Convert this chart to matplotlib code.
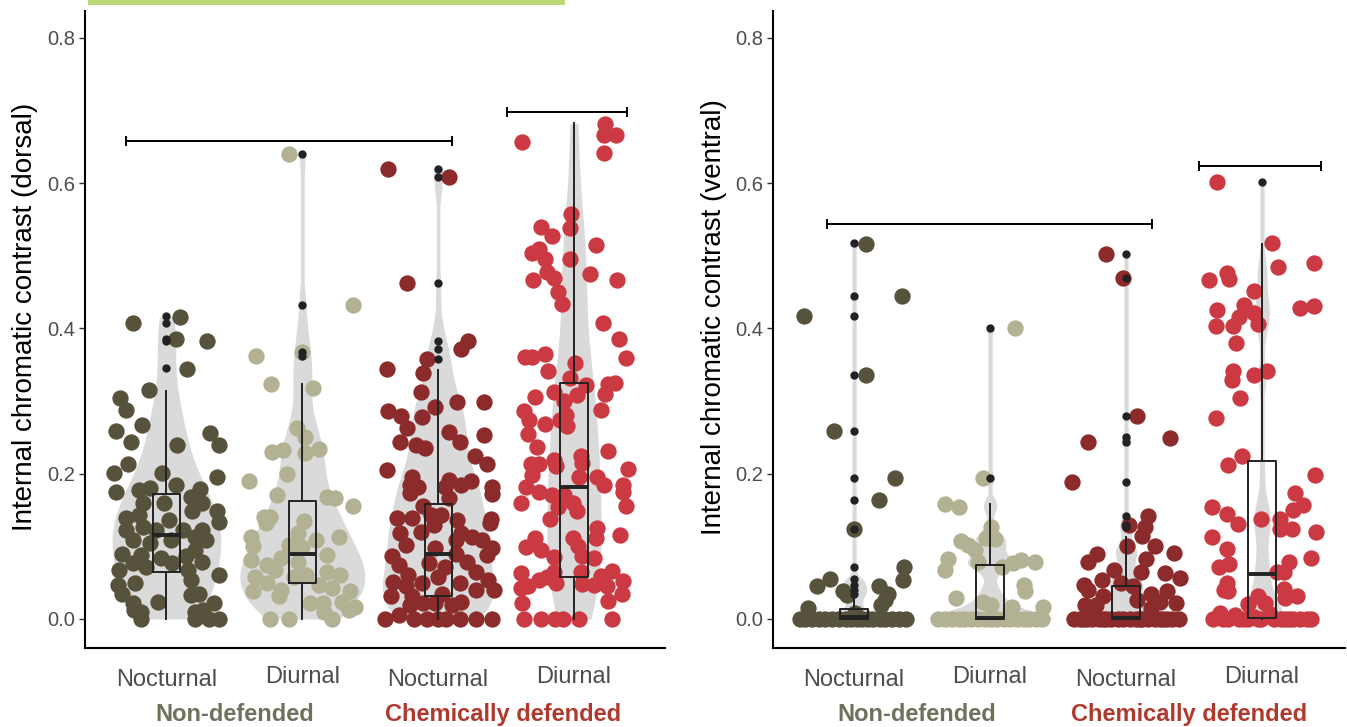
import numpy as np
import matplotlib.pyplot as plt
from matplotlib.patches import Rectangle

plt.rcParams['font.family'] = ['Liberation Sans', 'DejaVu Sans']

tick_labels = ['Nocturnal', 'Diurnal', 'Nocturnal', 'Diurnal']
group_labels = ['Non-defended', 'Chemically defended']
point_colors = ['#57523b', '#b2b193', '#8c2b2b', '#cb3a42']
group_colors = ['#6e715b', '#b0392e']

# ---------------- dorsal (left panel) ----------------
# y values and horizontal jitter
d_noc_nd_y = [0.407, 0.416, 0.385, 0.382, 0.344, 0.315, 0.304, 0.288, 0.259, 0.267,
              0.244, 0.256, 0.240, 0.239, 0.214, 0.201, 0.201, 0.196, 0.175, 0.178,
              0.180, 0.185, 0.179, 0.168, 0.159, 0.159, 0.159, 0.148, 0.139, 0.143,
              0.136, 0.148, 0.134, 0.123, 0.127, 0.123, 0.123, 0.123, 0.109, 0.104,
              0.109, 0.113, 0.109, 0.090, 0.088, 0.084, 0.086, 0.095, 0.077, 0.077,
              0.079, 0.068, 0.072, 0.068, 0.047, 0.049, 0.054, 0.061, 0.035, 0.024,
              0.033, 0.035, 0.022, 0.022, 0.010, 0.010, 0.000, 0.000, 0.000, 0.000,
              0.012, 0.012]
d_noc_nd_jit = [-0.25, 0.10, 0.07, 0.30, 0.15, -0.13, -0.34, -0.30, -0.37, -0.18,
                -0.26, 0.32, 0.39, 0.08, -0.28, -0.39, -0.03, 0.37, -0.37, -0.20,
                -0.12, 0.07, 0.25, 0.18, -0.17, -0.02, 0.26, 0.37, -0.30, -0.20,
                0.02, 0.19, 0.39, -0.30, -0.17, -0.08, 0.12, 0.26, -0.25, -0.12,
                0.03, 0.21, 0.29, -0.33, -0.19, -0.04, 0.14, 0.21, -0.25, 0.04,
                0.26, -0.35, -0.15, 0.16, -0.36, -0.23, 0.18, 0.39, -0.33, -0.06,
                0.18, 0.24, -0.25, 0.35, -0.19, 0.21, -0.19, 0.21, 0.31, 0.39,
                -0.24, 0.27]

d_diu_nd_y = [0.640, 0.432, 0.362, 0.368, 0.324, 0.318, 0.263, 0.251, 0.230, 0.233,
              0.228, 0.234, 0.190, 0.199, 0.171, 0.168, 0.166, 0.156, 0.141, 0.140,
              0.132, 0.135, 0.113, 0.101, 0.118, 0.109, 0.113, 0.102, 0.099, 0.084,
              0.088, 0.081, 0.074, 0.068, 0.078, 0.058, 0.049, 0.058, 0.061, 0.065,
              0.061, 0.039, 0.040, 0.031, 0.042, 0.038, 0.022, 0.022, 0.023, 0.017,
              0.012, 0.000, 0.000, 0.000, 0.010, 0.047]
d_diu_nd_jit = [-0.10, 0.37, -0.34, 0.00, -0.23, 0.08, -0.04, 0.02, -0.22, -0.14,
                0.02, 0.12, -0.39, -0.11, -0.19, 0.18, 0.24, 0.37, -0.28, -0.24,
                -0.27, 0.01, -0.38, -0.36, -0.03, 0.10, 0.27, -0.10, 0.00, -0.16,
                0.18, -0.38, -0.26, -0.20, -0.03, -0.35, -0.26, -0.06, 0.03, 0.18,
                0.28, -0.36, -0.16, -0.17, 0.22, 0.35, 0.06, 0.15, 0.29, 0.39,
                0.34, -0.24, -0.10, 0.22, 0.16, 0.12]

d_noc_cd_y = [0.619, 0.609, 0.462, 0.382, 0.372, 0.358, 0.344, 0.338, 0.313, 0.286,
              0.280, 0.278, 0.292, 0.298, 0.298, 0.263, 0.258, 0.244, 0.240, 0.236,
              0.243, 0.253, 0.224, 0.213, 0.205, 0.196, 0.185, 0.182, 0.191, 0.181,
              0.185, 0.190, 0.182, 0.172, 0.173, 0.166, 0.155, 0.139, 0.139, 0.143,
              0.143, 0.136, 0.137, 0.132, 0.118, 0.120, 0.129, 0.118, 0.113, 0.109,
              0.102, 0.109, 0.097, 0.088, 0.086, 0.097, 0.090, 0.074, 0.077, 0.072,
              0.079, 0.065, 0.061, 0.051, 0.058, 0.049, 0.054, 0.045, 0.049, 0.040,
              0.040, 0.031, 0.031, 0.035, 0.024, 0.022, 0.019, 0.000, 0.006, 0.000,
              0.000, 0.000, 0.000, 0.000, 0.000, 0.000, 0.022, 0.019]
d_noc_cd_jit = [-0.37, 0.08, -0.23, 0.22, 0.17, -0.08, -0.38, -0.11, -0.13, -0.37,
                -0.27, -0.12, -0.02, 0.14, 0.34, -0.23, 0.08, -0.28, -0.16, -0.10,
                0.16, 0.34, 0.27, 0.36, -0.38, -0.19, -0.21, -0.15, 0.08, 0.05,
                0.17, 0.24, 0.40, 0.40, -0.21, 0.08, -0.11, -0.30, -0.19, -0.05,
                0.02, 0.14, 0.39, 0.38, -0.28, -0.13, -0.03, 0.17, 0.25, 0.32,
                -0.24, 0.13, 0.40, 0.36, -0.34, -0.02, 0.13, -0.29, -0.07, 0.05,
                0.21, 0.28, -0.22, -0.33, 0.00, 0.16, 0.37, -0.24, -0.12, 0.28,
                0.41, -0.35, -0.19, 0.03, 0.17, -0.11, 0.10, -0.39, -0.29, -0.18,
                -0.08, 0.00, 0.06, 0.16, 0.28, 0.40, -0.02, -0.21]

d_diu_cd_y = [0.682, 0.666, 0.666, 0.642, 0.657, 0.557, 0.539, 0.538, 0.527, 0.510,
              0.504, 0.496, 0.496, 0.515, 0.477, 0.469, 0.466, 0.475, 0.467, 0.450,
              0.434, 0.407, 0.386, 0.361, 0.360, 0.365, 0.359, 0.342, 0.352, 0.332,
              0.322, 0.323, 0.325, 0.310, 0.305, 0.312, 0.309, 0.300, 0.286, 0.288,
              0.274, 0.281, 0.274, 0.268, 0.266, 0.255, 0.237, 0.231, 0.214, 0.213,
              0.219, 0.225, 0.215, 0.207, 0.211, 0.198, 0.195, 0.196, 0.184, 0.181,
              0.175, 0.185, 0.175, 0.160, 0.171, 0.170, 0.154, 0.160, 0.149, 0.155,
              0.138, 0.125, 0.112, 0.116, 0.112, 0.099, 0.095, 0.111, 0.100, 0.085,
              0.086, 0.084, 0.063, 0.042, 0.045, 0.053, 0.058, 0.065, 0.049, 0.064,
              0.048, 0.047, 0.059, 0.045, 0.066, 0.052, 0.035, 0.025, 0.022, 0.000,
              0.000, 0.000, 0.000, 0.000, 0.000]
d_diu_cd_jit = [0.23, 0.22, 0.31, 0.22, -0.38, -0.02, -0.24, -0.03, -0.16, -0.26,
                -0.31, -0.21, -0.03, 0.16, -0.20, -0.15, -0.30, 0.12, 0.32, -0.12,
                -0.09, 0.21, 0.33, -0.36, -0.31, -0.21, 0.38, -0.19, 0.01, -0.03,
                0.09, 0.25, 0.30, 0.23, -0.29, -0.15, 0.02, -0.07, -0.37, 0.20,
                -0.33, -0.06, -0.10, -0.21, -0.05, -0.34, -0.27, 0.25, -0.32, -0.26,
                -0.15, 0.05, 0.06, 0.40, -0.13, -0.31, 0.04, 0.17, 0.22, -0.35,
                -0.26, 0.36, 0.36, -0.39, -0.16, -0.07, -0.12, -0.01, 0.02, 0.38,
                -0.18, 0.17, 0.16, 0.34, -0.29, -0.35, -0.24, -0.01, 0.03, -0.15,
                0.06, 0.15, -0.39, -0.39, -0.34, -0.26, -0.20, -0.15, -0.13, 0.05,
                0.06, 0.15, 0.20, 0.24, 0.28, 0.36, 0.35, 0.25, -0.38, -0.37,
                -0.24, -0.14, -0.08, 0.04, 0.28]

# boxplot statistics and outliers
d_q1 = [0.065, 0.050, 0.031, 0.058]
d_med = [0.116, 0.089, 0.089, 0.182]
d_q3 = [0.172, 0.162, 0.158, 0.325]
d_whislo = [0.0, 0.0, 0.0, 0.0]
d_whishi = [0.314, 0.323, 0.343, 0.683]
d_fliers = [[0.417, 0.408, 0.385, 0.382, 0.345],
            [0.640, 0.432, 0.368, 0.362],
            [0.619, 0.609, 0.462, 0.382, 0.372, 0.358],
            []]
d_brackets = [(0.70, 3.10, 0.658), (3.51, 4.39, 0.698)]

# ---------------- ventral (right panel) ----------------
v_noc_nd_y = [0.516, 0.444, 0.417, 0.336, 0.259, 0.194, 0.164, 0.124, 0.072, 0.053,
              0.055, 0.045, 0.039, 0.045, 0.035, 0.026, 0.019, 0.033, 0.015, 0.008]
v_noc_nd_jit = [0.09, 0.35, -0.37, 0.09, -0.15, 0.30, 0.18, 0.00, 0.37, 0.36,
                -0.18, -0.27, -0.08, 0.18, 0.25, 0.23, 0.20, -0.05, -0.34, 0.01]
v_noc_nd_zero_jit = [-0.40, -0.36, -0.31, -0.26, -0.21, -0.16, -0.11, -0.06, -0.02, 0.02,
                     0.06, 0.10, 0.14, 0.19, 0.23, 0.28, 0.33, 0.38]

v_diu_nd_y = [0.400, 0.194, 0.158, 0.154, 0.127, 0.111, 0.110, 0.107, 0.102, 0.095,
              0.082, 0.068, 0.079, 0.072, 0.077, 0.081, 0.079, 0.047, 0.038, 0.029,
              0.024, 0.019, 0.017, 0.016]
v_diu_nd_jit = [0.18, -0.05, -0.33, -0.23, 0.01, -0.03, 0.04, -0.21, -0.16, -0.11,
                -0.31, -0.33, -0.09, 0.09, 0.17, 0.23, 0.33, 0.25, 0.26, -0.25,
                -0.05, 0.01, 0.16, 0.39]
v_diu_nd_zero_jit = [-0.38, -0.33, -0.28, -0.23, -0.19, -0.14, -0.09, -0.04, 0.01, 0.05,
                     0.10, 0.15, 0.20, 0.25, 0.29, 0.34, 0.38]

v_noc_cd_y = [0.503, 0.470, 0.279, 0.243, 0.249, 0.188, 0.142, 0.129, 0.126, 0.114,
              0.090, 0.100, 0.100, 0.091, 0.078, 0.068, 0.083, 0.065, 0.063, 0.056,
              0.053, 0.047, 0.040, 0.031, 0.035, 0.038, 0.022, 0.024, 0.019, 0.010,
              0.049, 0.045, 0.026, 0.019, 0.015]
v_noc_cd_jit = [-0.15, -0.02, 0.08, -0.28, 0.32, -0.40, 0.16, 0.02, 0.14, 0.12,
                -0.21, 0.01, 0.21, 0.35, -0.28, -0.09, 0.15, 0.11, 0.29, 0.40,
                -0.18, -0.31, -0.28, -0.17, 0.18, 0.30, 0.37, 0.25, -0.30, -0.27,
                -0.04, 0.05, 0.08, -0.22, 0.18]
v_noc_cd_zero_jit = [-0.38, -0.34, -0.29, -0.25, -0.20, -0.15, -0.11, -0.06, -0.02, 0.03,
                     0.07, 0.12, 0.16, 0.21, 0.25, 0.30, 0.34, 0.39, -0.32, -0.17,
                     0.10, 0.27]

v_diu_cd_y = [0.601, 0.517, 0.484, 0.490, 0.467, 0.476, 0.468, 0.452, 0.425, 0.432,
              0.416, 0.421, 0.406, 0.403, 0.403, 0.428, 0.431, 0.380, 0.341, 0.329,
              0.336, 0.341, 0.304, 0.276, 0.224, 0.212, 0.198, 0.173, 0.157, 0.150,
              0.154, 0.144, 0.131, 0.138, 0.137, 0.124, 0.124, 0.120, 0.113, 0.096,
              0.084, 0.079, 0.071, 0.076, 0.064, 0.065, 0.050, 0.040, 0.039, 0.041,
              0.029, 0.031, 0.031, 0.021, 0.022, 0.008, 0.000, 0.006, 0.000, 0.003,
              0.000, 0.007, 0.000, 0.000, 0.000, 0.000]
v_diu_cd_jit = [-0.33, 0.07, 0.12, 0.38, -0.39, -0.26, -0.24, -0.06, -0.33, -0.13,
                -0.17, -0.06, -0.03, -0.34, -0.21, 0.28, 0.38, -0.19, -0.21, -0.22,
                -0.06, 0.04, -0.16, -0.34, -0.15, -0.25, 0.39, 0.24, 0.30, 0.23,
                -0.37, -0.26, -0.18, -0.01, 0.13, 0.13, 0.22, 0.40, -0.37, -0.26,
                0.36, 0.20, -0.32, -0.24, 0.11, 0.16, -0.26, -0.28, -0.25, 0.16,
                0.17, 0.26, -0.03, -0.10, 0.02, -0.31, -0.29, -0.20, -0.13, -0.06,
                -0.03, 0.06, 0.17, 0.23, 0.33, 0.28]
v_diu_cd_zero_jit = [-0.36, -0.25, -0.17, -0.10, -0.01, 0.09, 0.14, 0.20, 0.36]

v_q1 = [0.0, 0.0, 0.0, 0.001]
v_med = [0.002, 0.001, 0.001, 0.062]
v_q3 = [0.014, 0.074, 0.046, 0.218]
v_whislo = [0.0, 0.0, 0.0, 0.0]
v_whishi = [0.029, 0.158, 0.113, 0.516]
v_fliers = [[0.517, 0.444, 0.417, 0.336, 0.259, 0.194, 0.164, 0.124, 0.072, 0.055, 0.047, 0.040, 0.034],
            [0.401, 0.194],
            [0.503, 0.470, 0.279, 0.250, 0.243, 0.188, 0.142, 0.130, 0.126],
            [0.601]]
v_brackets = [(0.80, 3.19, 0.544), (3.54, 4.43, 0.624)]


def with_zeros(y, jit, zero_jit):
    return list(y) + [0.0] * len(zero_jit), list(jit) + list(zero_jit)


def violin_width(vals, grid, bw):
    v = np.asarray(vals)[:, None]
    dens = np.exp(-0.5 * ((grid[None, :] - v) / bw) ** 2).sum(axis=0)
    return dens / dens.max()


def draw_panel(ax, ys, jits, q1, med, q3, wlo, whi, fliers, brackets,
               bws, halfw, minw, ylabel, xlim, grp_x):
    pos = [1, 2, 3, 4]
    for i in range(4):
        y = np.array(ys[i])
        grid = np.linspace(y.min(), y.max(), 400)
        w = np.maximum(violin_width(y, grid, bws[i]) * halfw[i], minw)
        ax.fill_betweenx(grid, pos[i] - w, pos[i] + w, color='#dadada', lw=0, zorder=1)
        ax.scatter(pos[i] + np.array(jits[i]), y, s=138, color=point_colors[i],
                   lw=0, zorder=2)
    stats = [dict(q1=q1[i], med=med[i], q3=q3[i], whislo=wlo[i], whishi=whi[i],
                  fliers=fliers[i]) for i in range(4)]
    ax.bxp(stats, positions=pos, widths=0.2, showcaps=False, manage_ticks=False,
           boxprops=dict(color='#222222', lw=1.4),
           whiskerprops=dict(color='#222222', lw=1.4),
           medianprops=dict(color='#222222', lw=2.8),
           flierprops=dict(marker='o', markerfacecolor='#222222',
                           markeredgecolor='none', markersize=6),
           zorder=3)
    for x0, x1, yb in brackets:
        ax.plot([x0, x1], [yb, yb], color='black', lw=1.4, zorder=4)
        for xe in (x0, x1):
            ax.plot([xe, xe], [yb - 0.0055, yb + 0.0055], color='black', lw=1.4, zorder=4)

    ax.set_xlim(*xlim)
    ax.set_ylim(-0.040, 0.837)
    ax.set_yticks([0.0, 0.2, 0.4, 0.6, 0.8])
    ax.set_yticklabels(['0.0', '0.2', '0.4', '0.6', '0.8'])
    ax.set_xticks([])
    ax.tick_params(axis='y', length=4, width=1, color='#333333', pad=3,
                   labelsize=14.5, labelcolor='#4d4d4d')
    for s in ('top', 'right'):
        ax.spines[s].set_visible(False)
    for s in ('left', 'bottom'):
        ax.spines[s].set_linewidth(1.5)
        ax.spines[s].set_color('black')
    ax.set_ylabel(ylabel, fontsize=20, color='black')
    ax.yaxis.set_label_coords(-0.081, 0.52)

    tr = ax.get_xaxis_transform()
    for i, lab in enumerate(tick_labels):
        yy = -0.0453 if lab == 'Diurnal' else -0.0500
        ax.text(pos[i], yy, lab, transform=tr, ha='center', va='center',
                fontsize=17, color='#4d4d4d')
    for j, lab in enumerate(group_labels):
        ax.text(grp_x[j], -0.1047, lab, transform=tr, ha='center', va='center',
                fontsize=17, fontweight='bold', color=group_colors[j])


fig = plt.figure(figsize=(13.47, 7.27), dpi=100)
ax1 = fig.add_axes([85 / 1347, 79 / 727, 580 / 1347, 637 / 727])
ax2 = fig.add_axes([773 / 1347, 79 / 727, 572 / 1347, 637 / 727])

dorsal_y = [d_noc_nd_y, d_diu_nd_y, d_noc_cd_y, d_diu_cd_y]
dorsal_jit = [d_noc_nd_jit, d_diu_nd_jit, d_noc_cd_jit, d_diu_cd_jit]
draw_panel(ax1, dorsal_y, dorsal_jit, d_q1, d_med, d_q3, d_whislo, d_whishi,
           d_fliers, d_brackets, bws=[0.04, 0.035, 0.032, 0.07],
           halfw=[0.40, 0.46, 0.41, 0.20], minw=0.013,
           ylabel='Internal chromatic contrast (dorsal)', xlim=(0.40, 4.67),
           grp_x=[1.5, 3.48])

ventral = [with_zeros(v_noc_nd_y, v_noc_nd_jit, v_noc_nd_zero_jit),
           with_zeros(v_diu_nd_y, v_diu_nd_jit, v_diu_nd_zero_jit),
           with_zeros(v_noc_cd_y, v_noc_cd_jit, v_noc_cd_zero_jit),
           with_zeros(v_diu_cd_y, v_diu_cd_jit, v_diu_cd_zero_jit)]
draw_panel(ax2, [v[0] for v in ventral], [v[1] for v in ventral], v_q1, v_med, v_q3,
           v_whislo, v_whishi, v_fliers, v_brackets, bws=[0.006, 0.01, 0.008, 0.02],
           halfw=[0.45, 0.45, 0.45, 0.15], minw=0.015,
           ylabel='Internal chromatic contrast (ventral)', xlim=(0.404, 4.61),
           grp_x=[1.46, 3.46])

# thin green strip along the top edge of the original figure
fig.patches.append(Rectangle((88 / 1347, 1 - 5 / 727), 477 / 1347, 5 / 727,
                             transform=fig.transFigure, color='#bbd877', lw=0))

fig.savefig('out.png', dpi=100)
